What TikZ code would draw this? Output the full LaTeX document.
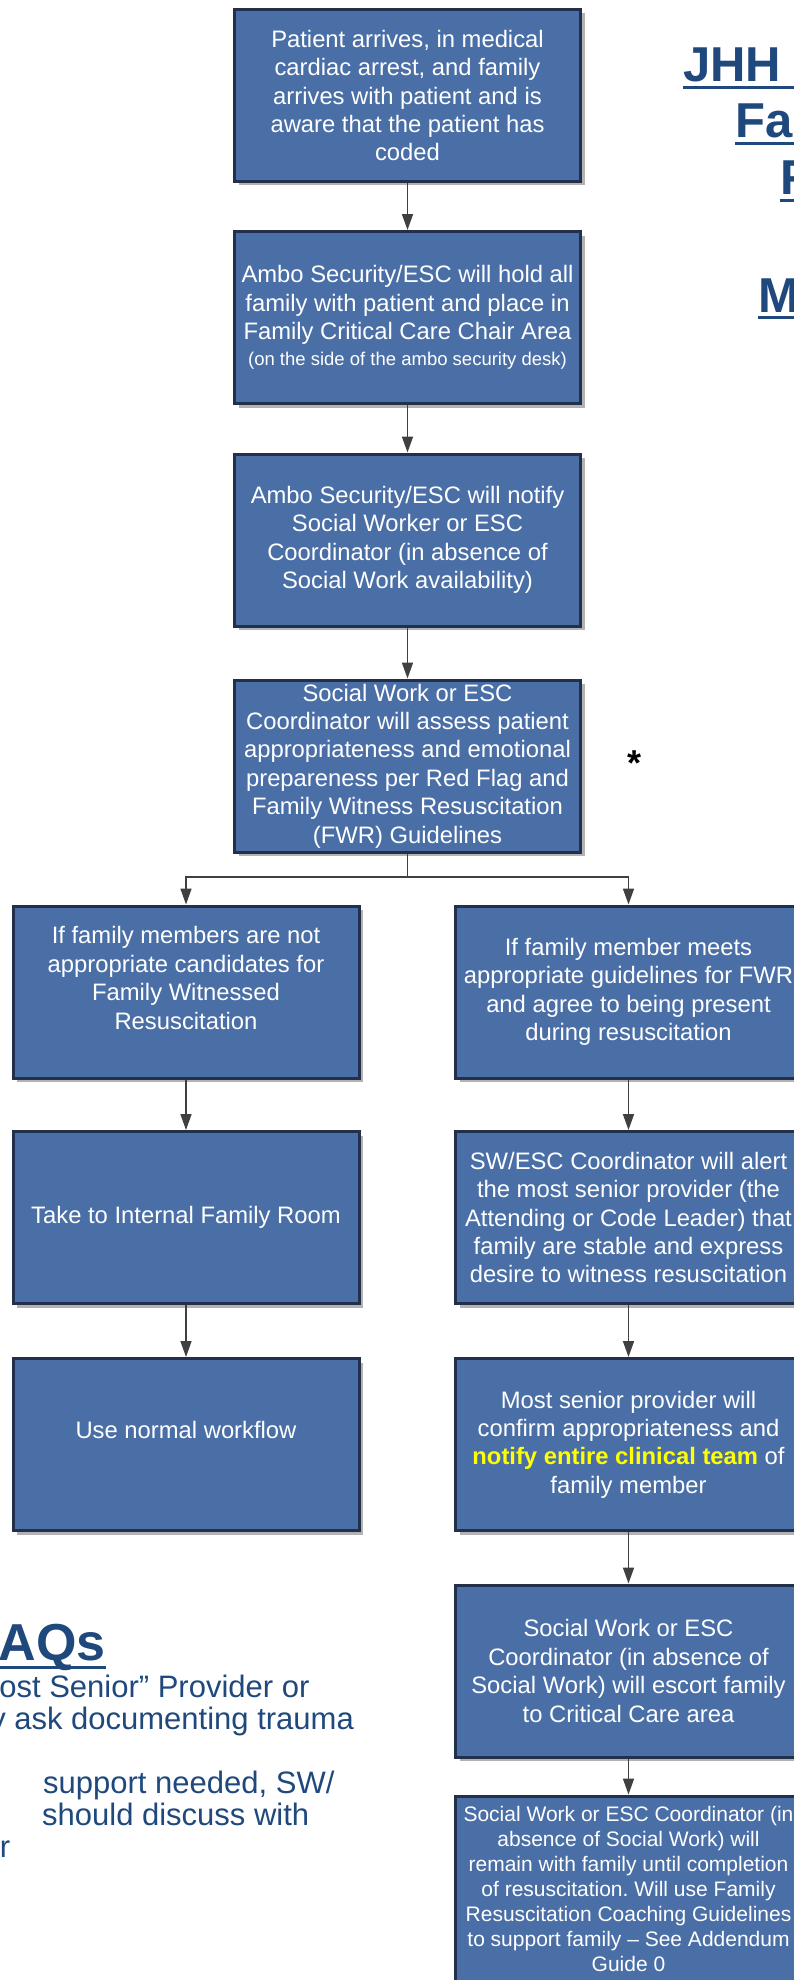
\documentclass[tikz,border=0pt]{standalone}
\usepackage{fontspec}
\setmainfont{Liberation Sans}
\usetikzlibrary{arrows.meta,shadows}
\frenchspacing
\definecolor{boxblue}{RGB}{74,111,167}
\definecolor{boxline}{RGB}{34,48,76}
\definecolor{titleblue}{RGB}{31,73,125}
\definecolor{arrowgray}{RGB}{64,64,64}
\definecolor{hiyellow}{RGB}{255,255,0}
\tikzset{
  flowbox/.style={draw=boxline, line width=3pt, fill=boxblue, text=white,
    minimum width=346pt, minimum height=172pt, align=center, inner sep=2pt,
    font=\fontsize{23.8}{28.4}\selectfont,
    drop shadow={shadow xshift=4pt, shadow yshift=-4pt, fill=black!30, opacity=1}},
  flowarrow/.style={draw=arrowgray, line width=1.6pt, -{Triangle[length=16pt,width=11pt]}},
  flowline/.style={draw=arrowgray, line width=1.6pt},
  titletext/.style={text=titleblue, font=\fontsize{49}{56}\selectfont\bfseries, inner sep=0pt},
  faqhead/.style={text=titleblue, font=\fontsize{52}{60}\selectfont\bfseries, inner sep=0pt},
  faqtext/.style={text=titleblue, font=\fontsize{31}{32}\selectfont, inner sep=0pt},
  uline/.style={draw=titleblue, line width=3pt}
}
\begin{document}
\begin{tikzpicture}[x=1pt,y=-1pt]
\useasboundingbox (0,0) rectangle (794,1980);
\fill[white] (0,0) rectangle (794,1980);

\node[flowbox] (b1) at (407.5,95.5) {Patient arrives, in medical\\cardiac arrest, and family\\arrives with patient and is\\aware that the patient has\\coded};
\node[flowbox] (b2) at (407.5,317.5) {Ambo Security/ESC will hold all\\family with patient and place in\\Family Critical Care Chair Area\\[-2pt]{\fontsize{18.5}{22}\selectfont (on the side of the ambo security desk)}};
\node[flowbox] (b3) at (407.5,540) {Ambo Security/ESC will notify\\Social Worker or ESC\\Coordinator (in absence of\\Social Work availability)};
\node[flowbox] (b4) at (407.5,766) {Social Work or ESC\\Coordinator will assess patient\\appropriateness and emotional\\prepareness per Red Flag and\\Family Witness Resuscitation\\(FWR) Guidelines};

\node[flowbox] (l1) at (186,992) {If family members are not\\appropriate candidates for\\Family Witnessed\\Resuscitation\\\mbox{}};
\node[flowbox] (l2) at (186,1217.5) {Take to Internal Family Room};
\node[flowbox] (l3) at (186,1444.5) {Use normal workflow\\\mbox{}};

\node[flowbox] (r1) at (628.5,992) {If family member meets\\appropriate guidelines for FWR\\and agree to being present\\during resuscitation};
\node[flowbox] (r2) at (628.5,1217.5) {SW/ESC Coordinator will alert\\the most senior provider (the\\Attending or Code Leader) that\\family are stable and express\\desire to witness resuscitation};
\node[flowbox] (r3) at (628.5,1444.5) {Most senior provider will\\confirm appropriateness and\\{\bfseries\color{hiyellow}notify entire clinical team} of\\family member};
\node[flowbox] (r4) at (628.5,1671) {Social Work or ESC\\Coordinator (in absence of\\Social Work) will escort family\\to Critical Care area};
\node[flowbox, minimum height=186pt, font=\fontsize{21}{25}\selectfont] (r5) at (628.5,1889) {Social Work or ESC Coordinator (in\\absence of Social Work) will\\remain with family until completion\\of resuscitation. Will use Family\\Resuscitation Coaching Guidelines\\to support family -- See Addendum\\Guide 0};

\coordinate (br) at (407.5,877);
\draw[flowarrow] (b1.south) -- (b2.north);
\draw[flowarrow] (b2.south) -- (b3.north);
\draw[flowarrow] (b3.south) -- (b4.north);
\draw[flowline] (b4.south) -- (br);
\draw[flowarrow] (br) -| (l1.north);
\draw[flowarrow] (br) -| (r1.north);
\draw[flowarrow] (l1.south) -- (l2.north);
\draw[flowarrow] (l2.south) -- (l3.north);
\draw[flowarrow] (r1.south) -- (r2.north);
\draw[flowarrow] (r2.south) -- (r3.north);
\draw[flowarrow] (r3.south) -- (r4.north);
\draw[flowarrow] (r4.south) -- (r5.north);

\node[anchor=base, inner sep=0pt, font=\fontsize{36}{40}\selectfont\bfseries] (star) at (634.5,775) {*};

% title (clipped at right edge)
\node[titletext, anchor=base west] (t1) at (683,82) {JHH Adult ED};
\node[titletext, anchor=base west] (t2) at (735,138) {Family Witnessed};
\node[titletext, anchor=base west] (t3) at (780,195) {FWR Process};
\node[titletext, anchor=base west] (t4) at (758,312) {Map};
\foreach \t in {t1,t2,t3,t4}{
  \draw[uline] ([yshift=-5.5pt]\t.base west) -- ([yshift=-5.5pt]\t.base east);
}

% FAQs (clipped at left edge)
\node[faqhead, anchor=base east] (faq) at (106,1660) {FAQs};
\draw[uline] ([yshift=-7pt]faq.base west) -- ([yshift=-7pt]faq.base east);
\node[faqtext, anchor=base west] (q1) at (-37,1697) {“Most Senior” Provider or};
\node[faqtext, anchor=base west] (q2) at (-53,1729) {may ask documenting trauma};
\node[faqtext, anchor=base west] (q3) at (43,1793) {support needed, SW/};
\node[faqtext, anchor=base west] (q4) at (42,1825) {should discuss with};
\node[faqtext, anchor=base east] (q5) at (10.5,1857) {coordinator};
\end{tikzpicture}
\end{document}
